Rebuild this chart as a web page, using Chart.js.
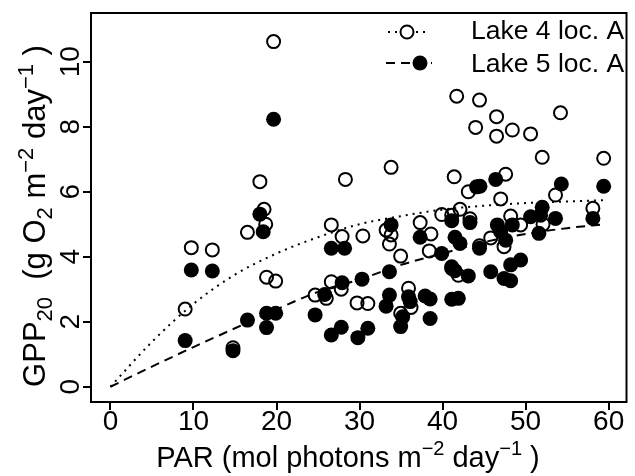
<!DOCTYPE html>
<html>
<head>
<meta charset="utf-8">
<script src="https://cdn.jsdelivr.net/npm/chart.js@4.4.0/dist/chart.umd.min.js"></script>
<style>
  html, body { margin: 0; padding: 0; background: #fff; }
  #wrap { width: 635px; height: 476px; }
</style>
</head>
<body>
<div id="wrap"><canvas id="myChart"></canvas></div>
<script>
// Lake 4 loc. A (open circles)
const lake4PAR = [9.0, 9.74, 12.27, 14.76, 16.5, 18.0, 18.5, 18.7, 18.8, 19.65, 19.9, 24.65, 26.0, 26.6, 26.6, 27.8, 27.9, 28.3, 29.7, 31.0,
  30.4, 33.2, 33.6, 33.8, 33.8, 34.95, 34.95, 35.9, 36.2, 37.3, 38.4, 38.6, 39.9, 41.1, 41.1, 41.4, 41.7, 41.9, 42.1, 43.1,
  43.3, 43.98, 44.45, 44.45, 45.8, 46.5, 46.5, 47.0, 47.4, 47.6, 48.2, 48.4, 49.4, 50.6, 52.0, 52.1, 53.6, 54.2, 58.1, 59.4];
const lake4GPP = [2.39, 4.28, 4.21, 1.2, 4.75, 6.31, 5.46, 5.0, 3.37, 10.62, 3.25, 2.82, 2.72, 4.98, 3.23, 3.0, 4.62, 6.38, 2.58, 2.56,
  4.64, 4.82, 4.39, 4.67, 6.75, 4.02, 2.26, 3.03, 2.44, 5.05, 4.18, 4.70, 5.30, 5.28, 3.64, 6.46, 8.94, 3.43, 5.46, 6.0,
  5.17, 7.98, 8.82, 4.34, 4.58, 8.31, 7.71, 5.78, 4.31, 6.54, 5.25, 7.90, 4.98, 7.78, 7.06, 5.0, 5.90, 8.43, 5.49, 7.03];

// Lake 5 loc. A (filled circles)
const lake5PAR = [9.0, 9.74, 12.27, 14.76, 16.5, 18.0, 18.4, 18.8, 18.8, 19.65, 19.9, 24.65, 25.8, 26.6, 26.6, 27.8, 27.9, 28.2, 29.8, 30.3,
  31.0, 33.2, 33.6, 33.6, 33.8, 34.95, 35.2, 35.9, 36.1, 37.3, 37.9, 38.5, 38.5, 39.9, 41.1, 41.1, 41.1, 41.5, 41.5, 41.9,
  42.1, 43.1, 43.3, 44.1, 44.5, 44.45, 45.8, 46.4, 46.6, 47.0, 47.4, 47.6, 48.2, 48.2, 48.4, 49.4, 50.6, 51.6, 51.8, 52.0,
  53.6, 54.3, 58.1, 59.4];
const lake5GPP = [1.42, 3.59, 3.56, 1.11, 2.05, 5.31, 4.77, 2.26, 1.82, 8.23, 2.26, 2.21, 2.84, 4.26, 1.59, 1.83, 3.2, 4.26, 1.51, 3.31,
  1.80, 2.48, 3.54, 2.82, 4.98, 1.85, 2.15, 2.77, 2.62, 4.6, 2.79, 2.70, 2.10, 4.10, 5.11, 3.69, 2.69, 4.6, 3.57, 2.72,
  4.41, 3.41, 5.05, 6.15, 6.17, 4.26, 3.54, 6.38, 4.98, 4.77, 3.33, 4.51, 3.26, 3.75, 4.98, 3.9, 5.23, 4.72, 5.28, 5.52,
  5.18, 6.24, 5.18, 6.17];

// fitted curves
const fitPAR = [0, 5, 10, 15, 20, 25, 30, 35, 40, 45, 50, 55, 59.5];
const fit4GPP = [0, 1.38, 2.55, 3.45, 4.1, 4.6, 5.0, 5.25, 5.45, 5.57, 5.65, 5.7, 5.74];
const fit5GPP = [0, 0.62, 1.22, 1.8, 2.38, 2.92, 3.3, 3.75, 4.1, 4.45, 4.7, 4.88, 5.0];

const xTicks = [0, 10, 20, 30, 40, 50, 60];
const yTicks = [0, 2, 4, 6, 8, 10];
const legendLabels = ['Lake 4 loc. A', 'Lake 5 loc. A'];

const FONT = '"Liberation Sans", Arial, sans-serif';

const toXY = (xs, ys) => xs.map((v, i) => ({ x: v, y: ys[i] }));

// text with sub/superscripts
function drawRich(ctx, parts, cx, cy, angle, big, small) {
  let total = 0;
  parts.forEach(p => {
    ctx.font = (p.sup || p.sub ? small : big) + 'px ' + FONT;
    p.w = ctx.measureText(p.t).width;
    total += p.w;
  });
  ctx.save();
  ctx.translate(cx, cy);
  ctx.rotate(angle);
  ctx.textAlign = 'left';
  ctx.textBaseline = 'alphabetic';
  let xx = -total / 2;
  parts.forEach(p => {
    ctx.font = (p.sup || p.sub ? small : big) + 'px ' + FONT;
    const dy = p.sup ? -12 : (p.sub ? 7 : 0);
    ctx.fillText(p.t, xx, dy);
    xx += p.w;
  });
  ctx.restore();
}

const rPlot = {
  id: 'rPlot',
  afterDraw(chart) {
    const { ctx, chartArea: a } = chart;
    const x = chart.scales.x, y = chart.scales.y;
    ctx.save();
    ctx.strokeStyle = '#000';
    ctx.lineWidth = 2;
    ctx.strokeRect(a.left, a.top, a.right - a.left, a.bottom - a.top);

    ctx.fillStyle = '#000';
    ctx.font = '28px ' + FONT;
    ctx.textAlign = 'center';
    ctx.textBaseline = 'alphabetic';
    xTicks.forEach(v => ctx.fillText(String(v), x.getPixelForValue(v), 430));
    yTicks.forEach(v => {
      ctx.save();
      ctx.translate(79, y.getPixelForValue(v));
      ctx.rotate(-Math.PI / 2);
      ctx.fillText(String(v), 0, 0);
      ctx.restore();
    });

    drawRich(ctx, [
      { t: 'PAR (mol photons m' }, { t: '\u22122', sup: true }, { t: ' day' }, { t: '\u22121', sup: true }, { t: ' )' }
    ], 348, 467, 0, 29, 20);
    drawRich(ctx, [
      { t: 'GPP' }, { t: '20', sub: true }, { t: '  (g O' }, { t: '2', sub: true }, { t: ' m' }, { t: '\u22122', sup: true },
      { t: ' day' }, { t: '\u22121', sup: true }, { t: ' )' }
    ], 45, 216, -Math.PI / 2, 31, 22);

    // legend
    ctx.font = '26.5px ' + FONT;
    ctx.textAlign = 'left';
    ctx.fillText(legendLabels[0], 471, 39);
    ctx.fillText(legendLabels[1], 471, 72);
    ctx.lineWidth = 2;
    ctx.setLineDash([2, 5]);
    ctx.beginPath(); ctx.moveTo(388, 32); ctx.lineTo(428, 32); ctx.stroke();
    ctx.setLineDash([9, 6]);
    ctx.beginPath(); ctx.moveTo(386, 63); ctx.lineTo(432, 63); ctx.stroke();
    ctx.setLineDash([]);
    ctx.fillStyle = '#fff';
    ctx.beginPath(); ctx.arc(407, 32, 6.5, 0, Math.PI * 2); ctx.fill(); ctx.stroke();
    ctx.fillStyle = '#000';
    ctx.beginPath(); ctx.arc(420, 63, 7.5, 0, Math.PI * 2); ctx.fill();
    ctx.restore();
  }
};

const axisGrid = {
  display: true,
  drawOnChartArea: false,
  drawTicks: true,
  tickLength: 8,
  color: '#000',
  lineWidth: 2
};

new Chart(document.getElementById('myChart'), {
  type: 'scatter',
  data: {
    datasets: [
      {
        label: 'fit4',
        data: toXY(fitPAR, fit4GPP),
        showLine: true,
        borderColor: '#000',
        borderWidth: 2,
        borderDash: [2, 5],
        pointRadius: 0,
        cubicInterpolationMode: 'monotone'
      },
      {
        label: 'fit5',
        data: toXY(fitPAR, fit5GPP),
        showLine: true,
        borderColor: '#000',
        borderWidth: 2,
        borderDash: [9, 6],
        pointRadius: 0,
        cubicInterpolationMode: 'monotone'
      },
      {
        label: legendLabels[0],
        data: toXY(lake4PAR, lake4GPP),
        pointRadius: 6.5,
        borderWidth: 2,
        borderColor: '#000',
        backgroundColor: 'rgba(0,0,0,0)'
      },
      {
        label: legendLabels[1],
        data: toXY(lake5PAR, lake5GPP),
        pointRadius: 7.5,
        borderWidth: 0,
        borderColor: '#000',
        backgroundColor: '#000'
      }
    ]
  },
  options: {
    responsive: true,
    maintainAspectRatio: false,
    animation: false,
    layout: { padding: { top: 13, right: 1, left: 0, bottom: 0 } },
    plugins: { legend: { display: false }, tooltip: { enabled: false } },
    scales: {
      x: {
        type: 'linear',
        min: -2.34,
        max: 62.15,
        grid: axisGrid,
        border: { display: false },
        ticks: { display: false },
        afterBuildTicks: (s) => { s.ticks = xTicks.map(v => ({ value: v })); },
        afterFit: (s) => { s.height = 74; }
      },
      y: {
        type: 'linear',
        min: -0.47,
        max: 11.5,
        grid: axisGrid,
        border: { display: false },
        ticks: { display: false },
        afterBuildTicks: (s) => { s.ticks = yTicks.map(v => ({ value: v })); },
        afterFit: (s) => { s.width = 91; }
      }
    }
  },
  plugins: [rPlot]
});
</script>
</body>
</html>
